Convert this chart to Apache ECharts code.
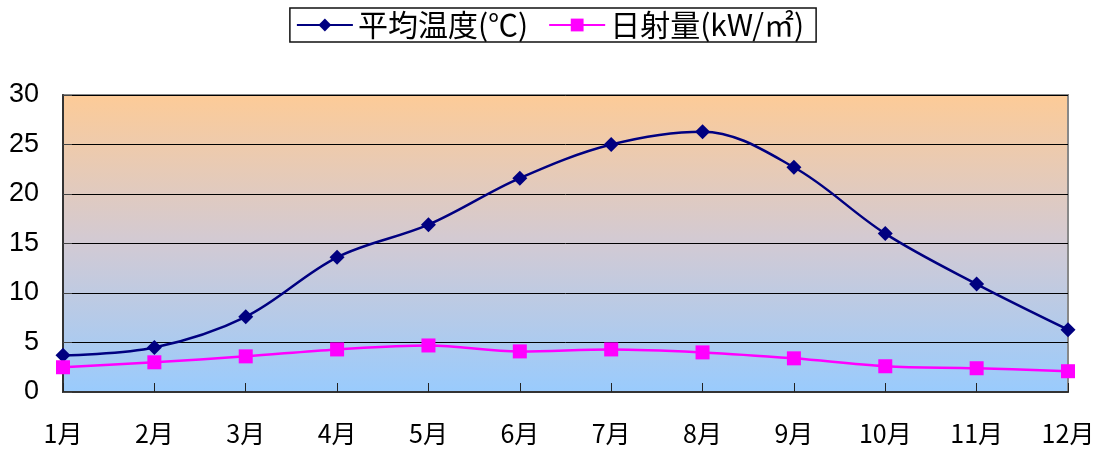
<!DOCTYPE html>
<html><head><meta charset="utf-8">
<script src="https://cdn.jsdelivr.net/npm/echarts@6/dist/echarts.min.js"></script>
<style>html,body{margin:0;padding:0;background:#fff}#c{width:1100px;height:451px}</style>
</head><body><div id="c"></div>
<script>
const categories = ['1月','2月','3月','4月','5月','6月','7月','8月','9月','10月','11月','12月'];
const tempName = '平均温度(℃)';
const solarName = '日射量(kW/㎡)';
const temperature = [3.7, 4.5, 7.6, 13.6, 16.9, 21.6, 25.0, 26.3, 22.7, 16.0, 10.9, 6.3];
const solar = [2.5, 3.0, 3.6, 4.3, 4.7, 4.1, 4.3, 4.0, 3.4, 2.6, 2.4, 2.1];
const yTicks = {min: 0, max: 30, interval: 5};

const font = '"Noto Sans CJK JP", "Liberation Sans", sans-serif';
const chart = echarts.init(document.getElementById('c'), null, {renderer: 'canvas'});
chart.setOption({
  animation: false,
  textStyle: {fontFamily: font},
  legend: {
    top: 8, left: 'center',
    itemWidth: 56, itemHeight: 16, itemGap: 20,
    padding: [2, 12, 2, 6],
    borderColor: '#111', borderWidth: 1.5,
    textStyle: {fontSize: 30, color: '#000', fontFamily: font},
    data: [tempName, solarName]
  },
  grid: {
    left: 63, right: 32, top: 95, bottom: 59,
    show: true, borderColor: '#888', borderWidth: 2,
    backgroundColor: new echarts.graphic.LinearGradient(0, 0, 0, 1, [
      {offset: 0, color: '#fdcb97'},
      {offset: 0.5, color: '#d2cad4'},
      {offset: 1, color: '#99cbfd'}
    ])
  },
  xAxis: {
    type: 'category', data: categories, boundaryGap: false,
    axisLine: {lineStyle: {color: '#333', width: 2}},
    axisTick: {inside: true, length: 9, lineStyle: {color: '#222', width: 1}},
    axisLabel: {fontSize: 25, color: '#000', margin: 29, fontFamily: font}
  },
  yAxis: {
    type: 'value', min: yTicks.min, max: yTicks.max, interval: yTicks.interval,
    axisLine: {show: true, lineStyle: {color: '#333', width: 2}},
    axisTick: {show: true, inside: true, length: 9, lineStyle: {color: '#444'}},
    splitLine: {lineStyle: {color: '#000', width: 1}},
    axisLabel: {fontSize: 27, color: '#000', margin: 24, fontFamily: '"Liberation Sans", sans-serif'}
  },
  series: [
    {
      name: tempName, type: 'line', data: temperature, smooth: 0.35,
      symbol: 'diamond', symbolSize: 15,
      lineStyle: {color: '#000080', width: 2.5},
      itemStyle: {color: '#000080'}
    },
    {
      name: solarName, type: 'line', data: solar, smooth: 0.35,
      symbol: 'rect', symbolSize: 14,
      lineStyle: {color: '#ff00ff', width: 2.5},
      itemStyle: {color: '#ff00ff'}
    }
  ]
});
</script></body></html>
